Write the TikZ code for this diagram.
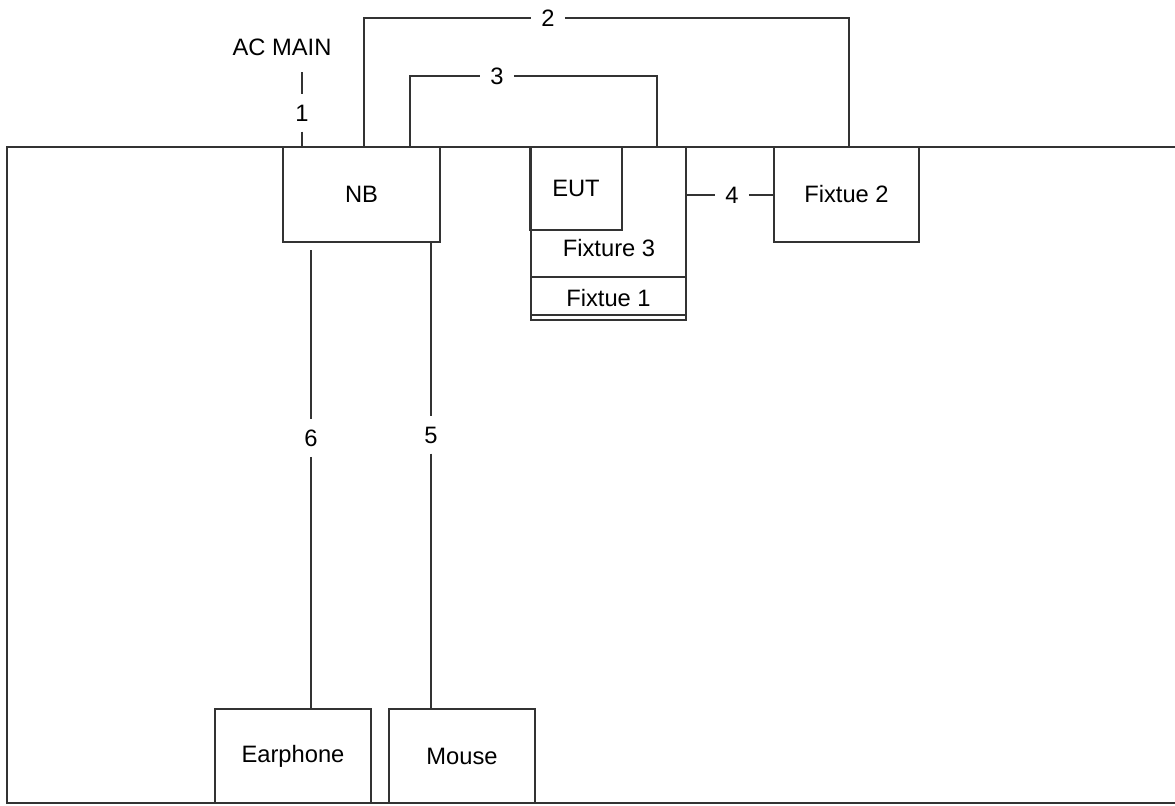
\documentclass[tikz,border=0pt]{standalone}
\usepackage{fontspec}
\setmainfont{Liberation Sans}
\usetikzlibrary{positioning, calc}

\begin{document}
\begin{tikzpicture}[
  x=0.02cm, y=-0.02cm,
  font=\fontsize{13.5}{16}\selectfont,
  box/.style={draw=black!80, line width=0.9pt, rectangle, inner sep=0pt},
  wire/.style={draw=black!80, line width=0.9pt},
  lbl/.style={inner sep=0.2cm}
]
\useasboundingbox (0,0) rectangle (1175,805);

% table outline
\draw[wire, line width=1.2pt] (1180,147) -- (7,147) -- (7,803) -- (1180,803);

% units on the table
\node[box, minimum width=3.14cm, minimum height=1.9cm] (nb) at (361.5,194.5) {NB};
\node[box, minimum width=3.1cm, minimum height=2.6cm] (fx3) at (608.5,212) {};
\node (fx3txt) at (609,248) {Fixture 3};
\node[box, minimum width=1.84cm, minimum height=1.66cm] (eut) at (576,188.5) {EUT};
\node[box, minimum width=3.1cm, minimum height=0.86cm] (fx1) at (608.5,298.5) {Fixtue 1};
\draw[wire] ($(fx1.south west)+(0,-6)$) -- ($(fx1.south east)+(0,-6)$);
\node[box, minimum width=2.9cm, minimum height=1.9cm] (fx2) at (846.5,194.5) {Fixtue 2};
\node[box, minimum width=3.12cm, minimum height=1.88cm] (ear) at (293,756) {Earphone};
\node[box, minimum width=2.92cm, minimum height=1.88cm] (mouse) at (462,756) {Mouse};

% power
\node (ac) at (282,47) {AC MAIN};
\coordinate (ac1) at (302,72);
\node[lbl] (l1) at (302,113) {1};
\draw[wire] (ac1) -- (l1) -- (l1 |- nb.north);

% cables
\coordinate (n2) at (364,147);
\coordinate (f2top) at (849,147);
\node[lbl] (l2) at (548,18) {2};
\draw[wire] (n2) |- (l2) -| (f2top);

\coordinate (n3) at (410,147);
\coordinate (f3top) at (657,147);
\node[lbl] (l3) at (497,76) {3};
\draw[wire] (n3) |- (l3) -| (f3top);

\node[lbl] (l4) at (732,195) {4};
\draw[wire] (fx3.east |- l4) -- (l4) -- (fx2.west |- l4);

\coordinate (n6) at (311,250);
\node[lbl] (l6) at (311,438) {6};
\draw[wire] (n6) -- (l6) -- (l6 |- ear.north);

\node[lbl] (l5) at (431,435) {5};
\draw[wire] (l5 |- nb.south) -- (l5) -- (l5 |- mouse.north);

\end{tikzpicture}
\end{document}
